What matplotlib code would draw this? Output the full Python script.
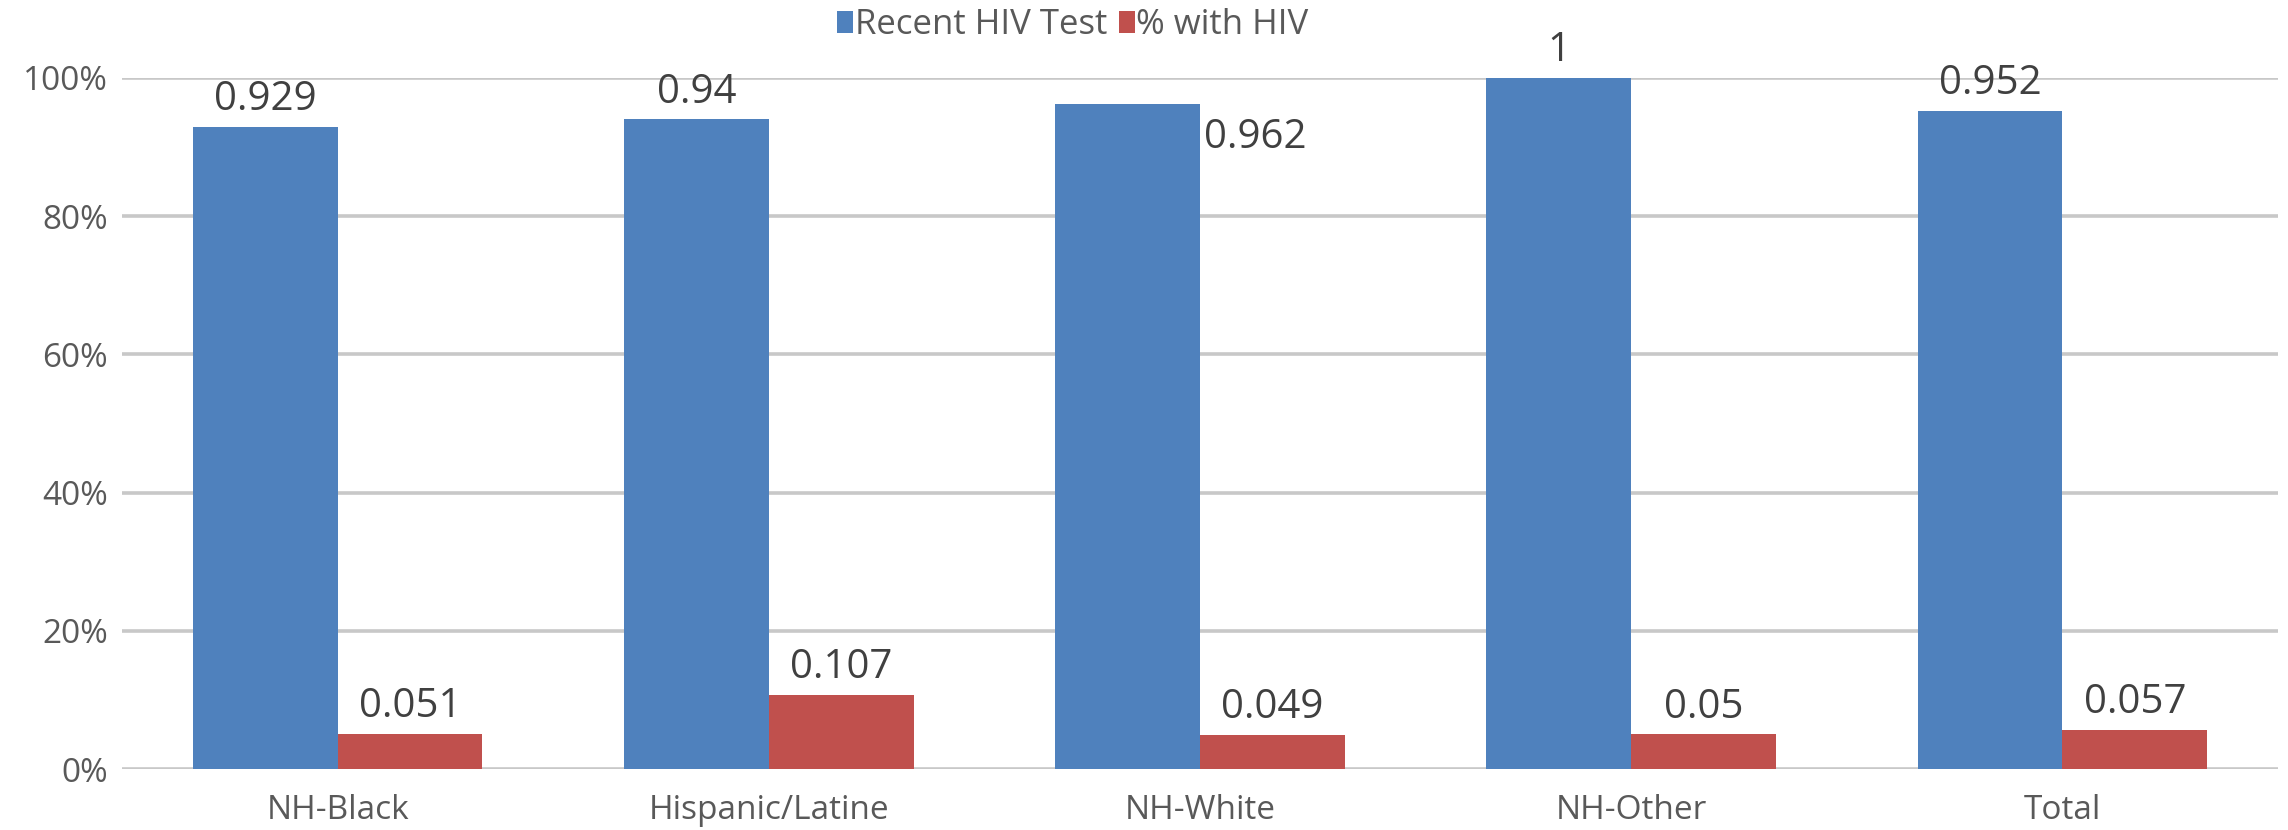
import matplotlib.pyplot as plt
import numpy as np

categories = ['NH-Black', 'Hispanic/Latine', 'NH-White', 'NH-Other', 'Total']
recent_test = [0.929, 0.94, 0.962, 1.0, 0.952]
with_hiv = [0.051, 0.107, 0.049, 0.05, 0.057]
recent_labels = ['0.929', '0.94', '0.962', '1', '0.952']
hiv_labels = ['0.051', '0.107', '0.049', '0.05', '0.057']
yticks = [0, 0.2, 0.4, 0.6, 0.8, 1.0]
ytick_labels = ['0%', '20%', '40%', '60%', '80%', '100%']

plt.rcParams['font.family'] = ['Open Sans', 'DejaVu Sans']

blue = '#4F81BD'
red = '#C0504D'
grid_c = '#C8C8C8'

fig = plt.figure(figsize=(22.88, 8.3), dpi=100)
ax = fig.add_axes([122 / 2288, 1 - 769 / 830, (2278 - 122) / 2288, (769 - 78) / 830])

x = np.arange(len(categories))
w = 0.336
b1 = ax.bar(x - w / 2, recent_test, w, color=blue, label='Recent HIV Test', zorder=3)
b2 = ax.bar(x + w / 2, with_hiv, w, color=red, label='% with HIV', zorder=3)

ax.set_xlim(-0.5, len(categories) - 0.5)
ax.set_ylim(0, 1)
ax.set_yticks(yticks)
ax.set_yticklabels(ytick_labels)
ax.set_xticks(x)
ax.set_xticklabels(categories)
for y in yticks:
    ax.axhline(y, color=grid_c, lw=2.6, zorder=1)
for s in ax.spines.values():
    s.set_visible(False)
ax.tick_params(axis='both', length=0, labelsize=24, colors='#595959')
ax.tick_params(axis='x', pad=18)
ax.tick_params(axis='y', pad=10)

lab_c = '#404040'
for i, (r, t) in enumerate(zip(b1, recent_labels)):
    if t == '0.962':
        # this label sits beside the bar in the original
        ax.annotate(t, (r.get_x() + r.get_width(), r.get_height()), xytext=(3, -24),
                    textcoords='offset points', ha='left', va='center', fontsize=29, color=lab_c)
    else:
        ax.annotate(t, (r.get_x() + r.get_width() / 2, r.get_height()), xytext=(0, 5),
                    textcoords='offset points', ha='center', va='bottom', fontsize=29, color=lab_c)
for r, t in zip(b2, hiv_labels):
    ax.annotate(t, (r.get_x() + r.get_width() / 2, r.get_height()), xytext=(0, 5),
                textcoords='offset points', ha='center', va='bottom', fontsize=29, color=lab_c)

fig.legend(handles=[b1, b2], loc='center', bbox_to_anchor=(1073 / 2288, 1 - 25 / 830), ncol=2,
           frameon=False, fontsize=25, handlelength=0.45, handleheight=0.6, handletextpad=0.05,
           columnspacing=0.35, labelcolor='#595959', borderpad=0)

fig.savefig('out.png', dpi=100, facecolor='white')
